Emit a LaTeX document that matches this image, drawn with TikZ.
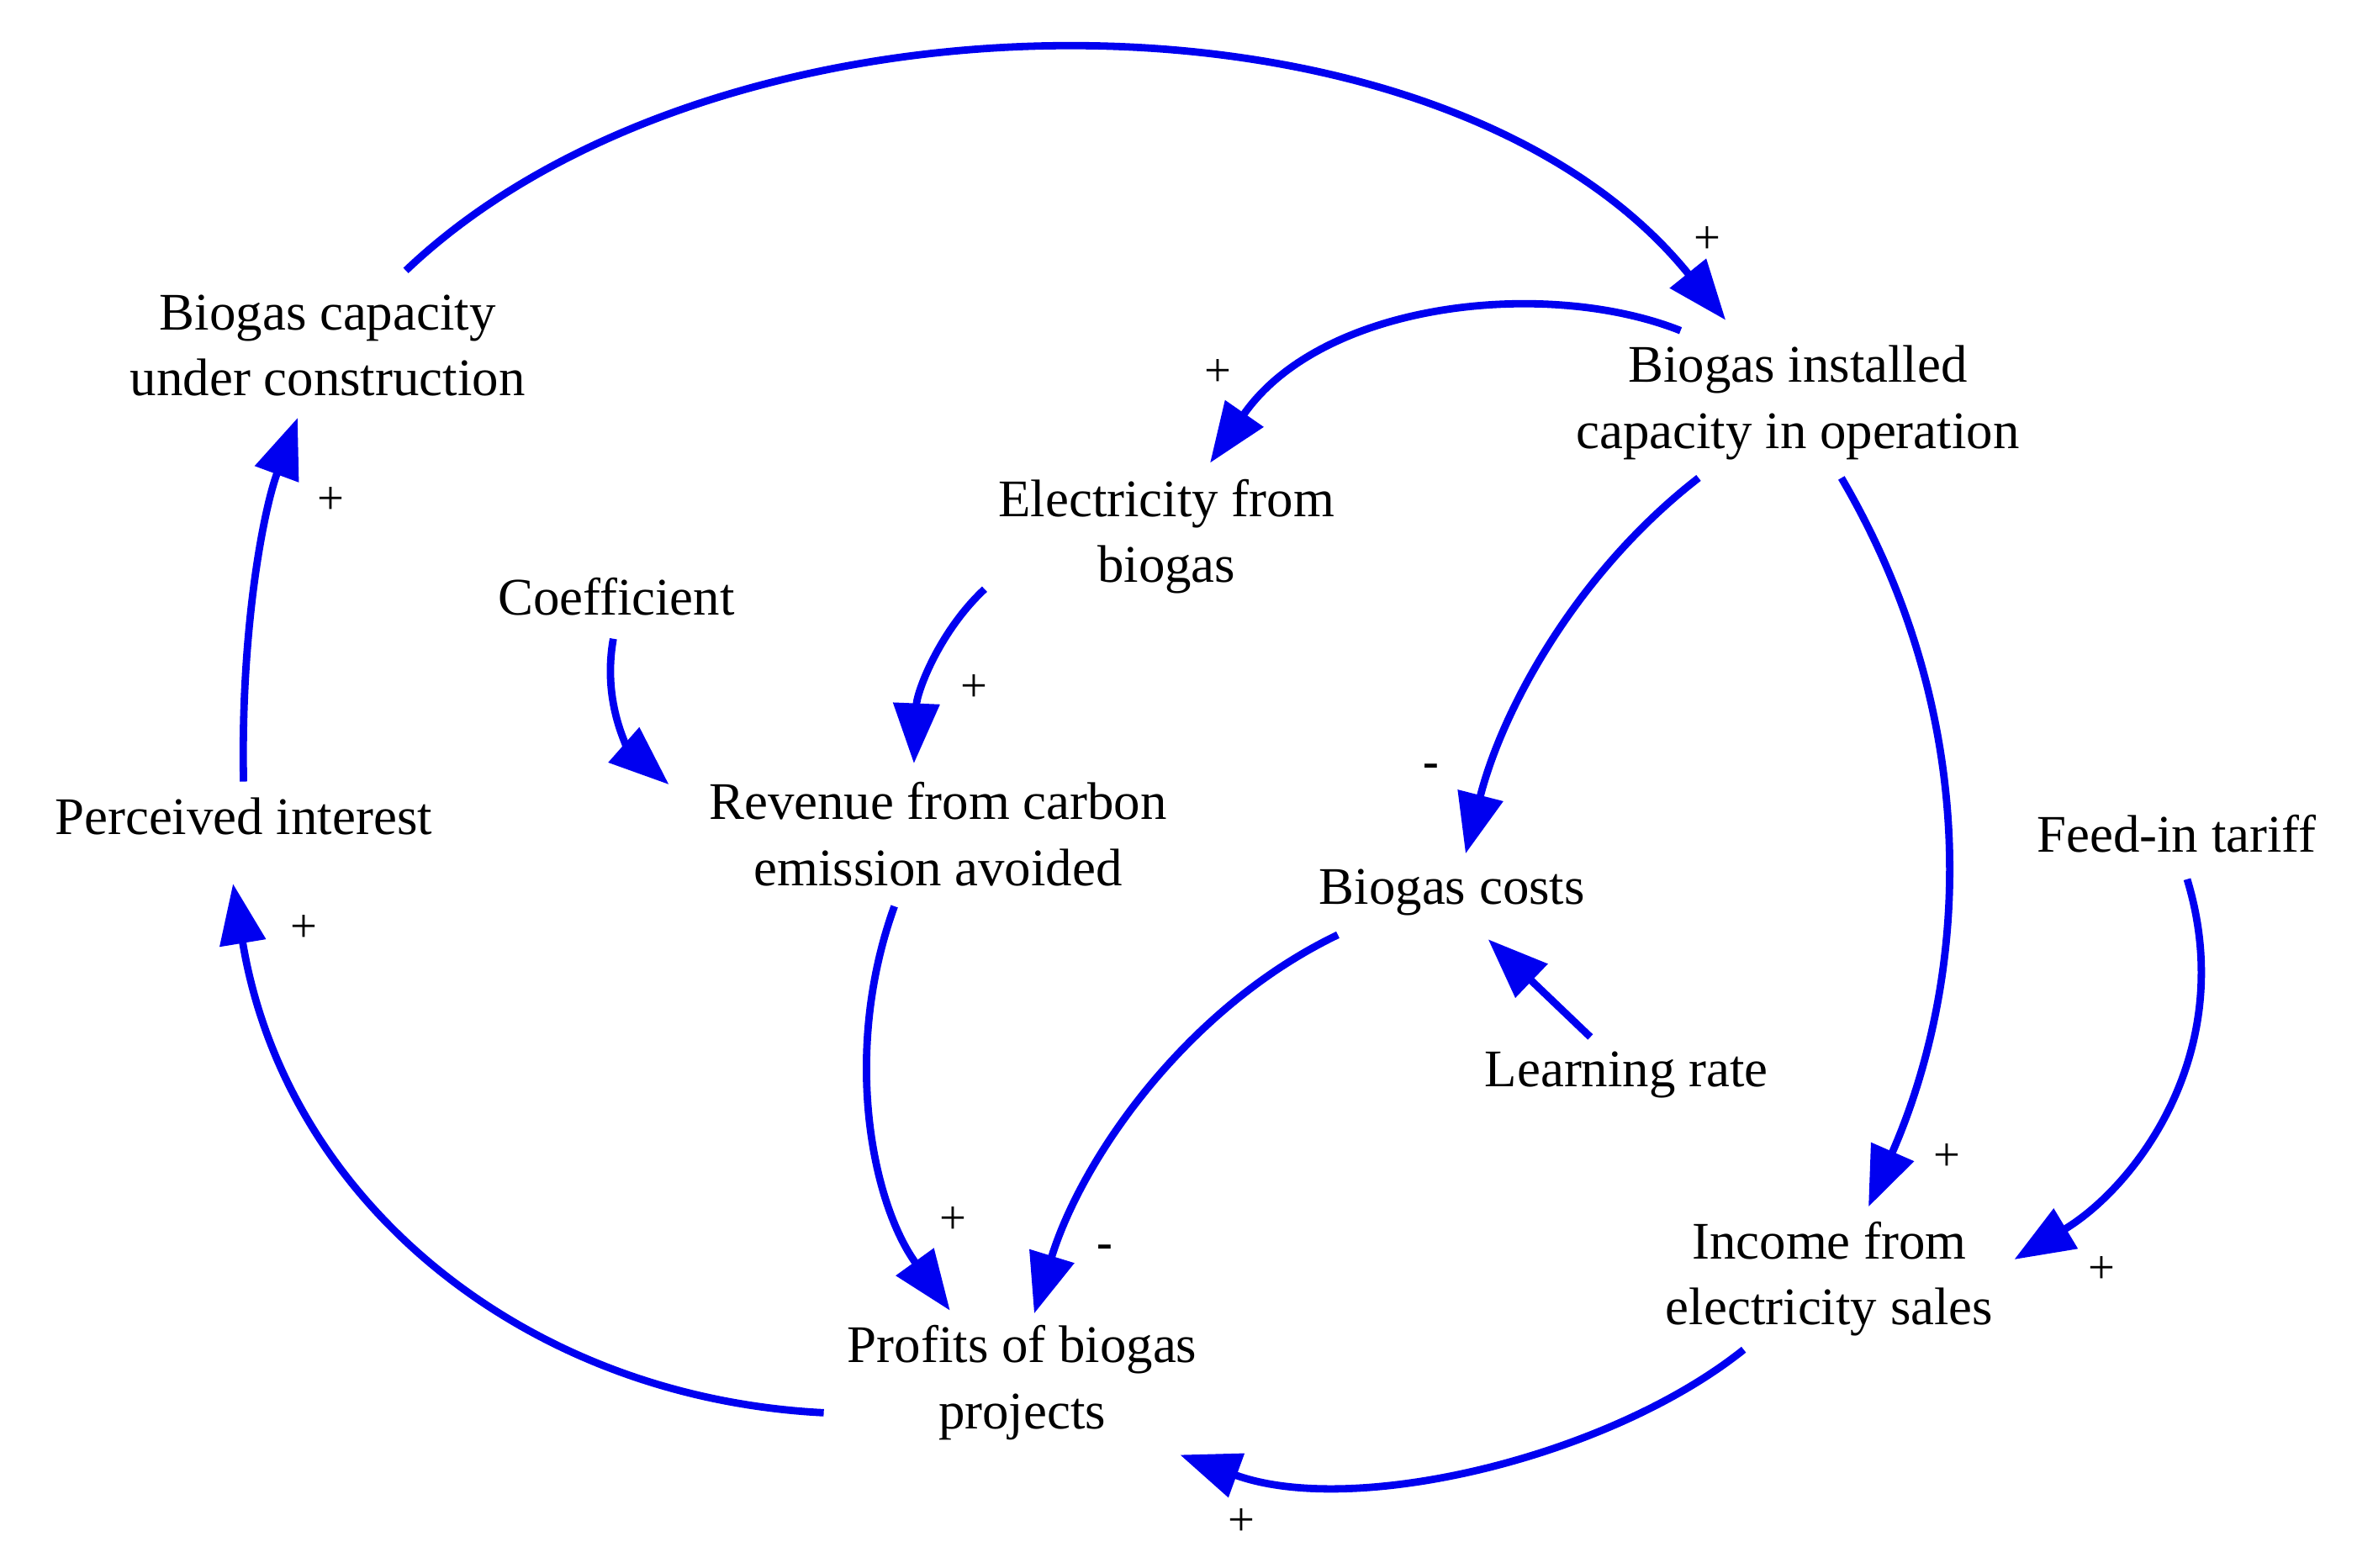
\documentclass[tikz,border=0pt]{standalone}
\usepackage{fontspec}
\setmainfont{Liberation Serif}
\usetikzlibrary{arrows.meta,calc}
\begin{document}
\begin{tikzpicture}[x=0.01cm,y=-0.01cm,
  lab/.style={font=\fontsize{10pt}{12.5pt}\selectfont,align=center,inner sep=0pt},
  sg/.style={font=\fontsize{9pt}{10pt}\selectfont,inner sep=0pt},
  ar/.style={draw={rgb,255:red,0;green,0;blue,240},line width=1.4pt,-{Triangle[length=0.4cm,width=0.3cm]}}]
\useasboundingbox (0,0) rectangle (1568,1043);
\node[lab] (cons) at (218,230) {Biogas capacity\\under construction};
\node[lab] (inst) at (1196,268) {Biogas installed\\capacity in operation};
\node[lab] (elec) at (776,357) {Electricity from\\biogas};
\node[lab] (coef) at (410,397) {Coefficient};
\node[lab] (rev) at (624,555) {Revenue from carbon\\emission avoided};
\node[lab] (perc) at (162,543) {Perceived interest};
\node[lab] (costs) at (966,594) {Biogas costs};
\node[lab] (feed) at (1448,555) {Feed-in tariff};
\node[lab] (learn) at (1082,715) {Learning rate};
\node[lab] (income) at (1217,851) {Income from\\electricity sales};
\node[lab] (profits) at (680,920) {Profits of biogas\\projects};

\draw[ar] ($(cons)+(52,-50)$) .. controls (480,-20) and (960,-20) .. ($(inst)+(-48,-55)$);
\draw[ar] ($(inst)+(-78,-48)$) .. controls (1030,185) and (880,200) .. ($(elec)+(29,-49)$);
\draw[ar] ($(inst)+(-66,50)$) .. controls (1050,380) and (1000,470) .. ($(costs)+(9,-26)$);
\draw[ar] ($(inst)+(29,50)$) .. controls (1320,480) and (1310,650) .. ($(income)+(26,-48)$);
\draw[ar] ($(elec)+(-121,35)$) .. controls (625,420) and (610,460) .. ($(rev)+(-16,-47)$);
\draw[ar] ($(coef)+(-2,28)$) .. controls (400,470) and (420,500) .. ($(rev)+(-179,-33)$);
\draw[ar] ($(rev)+(-29,48)$) .. controls (560,700) and (580,800) .. ($(profits)+(-48,-48)$);
\draw[ar] ($(costs)+(-76,28)$) .. controls (790,670) and (720,770) .. ($(profits)+(8,-46)$);
\draw[ar] ($(learn)+(-24,-25)$) -- ($(costs)+(24,31)$);
\draw[ar] ($(feed)+(7,30)$) .. controls (1490,700) and (1420,790) .. ($(income)+(123,-13)$);
\draw[ar] ($(income)+(-57,47)$) .. controls (1070,970) and (900,1010) .. ($(profits)+(105,48)$);
\draw[ar] ($(profits)+(-132,20)$) .. controls (350,930) and (190,800) .. ($(perc)+(-7,45)$);
\draw[ar] ($(perc)+(0,-23)$) .. controls (160,420) and (175,340) .. ($(cons)+(-20,48)$);

\node[sg] (s1) at (1136,160) {+};
\node[sg] (s2) at (810,248) {+};
\node[sg] (s3) at (952,513) {\textbf{-}};
\node[sg] (s4) at (1295,770) {+};
\node[sg] (s5) at (648,458) {+};
\node[sg] (s6) at (634,812) {+};
\node[sg] (s7) at (735,833) {\textbf{-}};
\node[sg] (s8) at (1398,845) {+};
\node[sg] (s9) at (826,1013) {+};
\node[sg] (s10) at (202,618) {+};
\node[sg] (s11) at (220,333) {+};
\end{tikzpicture}
\end{document}
